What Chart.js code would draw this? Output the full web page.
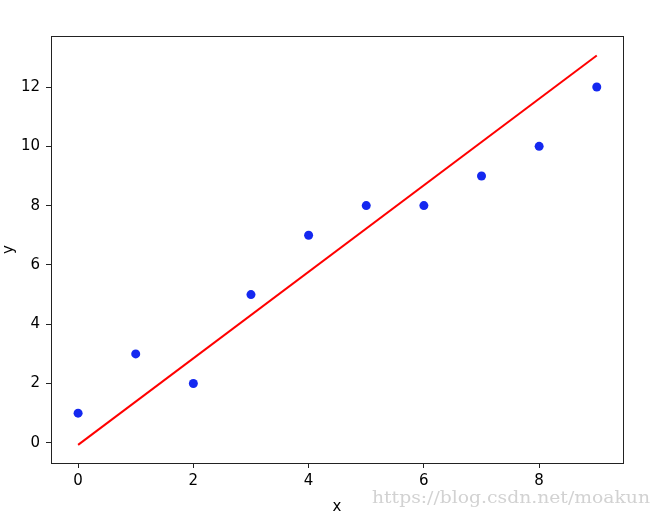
<!DOCTYPE html>
<html>
<head>
<meta charset="utf-8">
<script src="https://cdn.jsdelivr.net/npm/chart.js@4"></script>
<style>
  html, body { margin: 0; padding: 0; background: #fff; }
  #wrap { width: 662px; height: 518px; position: relative; }
</style>
</head>
<body>
<div id="wrap"><canvas id="chart"></canvas></div>
<script>
// data
const xs = [0, 1, 2, 3, 4, 5, 6, 7, 8, 9];
const ys = [1, 3, 2, 5, 7, 8, 8, 9, 10, 12];
// fitted line end points
const lineX = [0, 9];
const lineY = [-0.07, 13.06];
// tick labels
const xTicks = [0, 2, 4, 6, 8];
const yTicks = [0, 2, 4, 6, 8, 10, 12];

Chart.defaults.font.family = "'DejaVu Sans', sans-serif";
Chart.defaults.font.size = 15;
Chart.defaults.color = "#000";

// frame round the plot + watermark
const framePlugin = {
  id: 'frame',
  afterDraw(chart) {
    const a = chart.chartArea;
    const ctx = chart.ctx;
    ctx.save();
    ctx.strokeStyle = '#222';
    ctx.lineWidth = 1;
    ctx.strokeRect(a.left + 0.5, a.top + 0.5, a.right - a.left, a.bottom - a.top);
    // watermark
    ctx.fillStyle = '#d2d2d2';
    ctx.font = "17px 'DejaVu Serif', serif";
    ctx.textBaseline = 'alphabetic';
    let txt = 'https://blog.csdn.net/moakun';
    let w = ctx.measureText(txt).width;
    let target = 278;
    ctx.translate(372, 503);
    ctx.scale(target / w, 1);
    ctx.fillText(txt, 0, 0);
    ctx.restore();
  }
};

var ctx = document.getElementById('chart').getContext('2d');
new Chart(ctx, {
  type: 'scatter',
  data: {
    datasets: [{
      label: 'data',
      data: xs.map((x, i) => ({ x: x, y: ys[i] })),
      backgroundColor: '#1428f0',
      borderColor: '#1428f0',
      pointRadius: 4.5,
      borderWidth: 0,
      order: 2
    }, {
      label: 'fit',
      data: lineX.map((x, i) => ({ x: x, y: lineY[i] })),
      showLine: true,
      borderColor: '#ff0000',
      borderWidth: 2,
      pointRadius: 0,
      order: 1
    }]
  },
  options: {
    responsive: true,
    maintainAspectRatio: false,
    animation: false,
    layout: { padding: { left: 0, right: 39, top: 36, bottom: 2 } },
    plugins: { legend: { display: false }, tooltip: { enabled: false } },
    scales: {
      x: {
        type: 'linear',
        min: -0.47,
        max: 9.455,
        afterBuildTicks: (axis) => { axis.ticks = xTicks.map(v => ({ value: v })); },
        afterFit: (axis) => { axis.height = 53; },
        grid: { drawOnChartArea: false, tickLength: 5, color: '#222', tickColor: '#222' },
        border: { color: '#222' },
        ticks: { padding: 4, maxRotation: 0 },
        title: { display: true, text: 'x', padding: { top: 0, bottom: 0 } }
      },
      y: {
        type: 'linear',
        min: -0.68,
        max: 13.72,
        afterBuildTicks: (axis) => { axis.ticks = yTicks.map(v => ({ value: v })); },
        afterFit: (axis) => { axis.width = 51; },
        grid: { drawOnChartArea: false, tickLength: 5, color: '#222', tickColor: '#222' },
        border: { color: '#222' },
        ticks: { padding: 6 },
        title: { display: true, text: 'y', padding: { top: 0, bottom: 0 } }
      }
    }
  },
  plugins: [framePlugin]
});
</script>
</body>
</html>
